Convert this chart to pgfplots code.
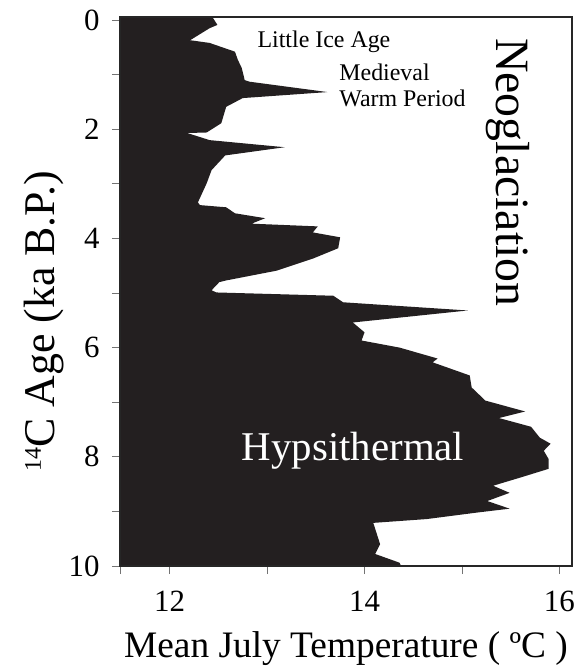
\documentclass[border=0pt]{standalone}
\usepackage{fontspec}
\setmainfont{Liberation Serif}
\usepackage{pgfplots}
\usepackage{pgfplotstable}
\pgfplotsset{compat=1.18}
\definecolor{fillblk}{RGB}{35,31,32}

% mean July temperature (T) against 14C age (ka B.P.)
\pgfplotstableread{
T      age
11.30  -0.10
12.44  -0.10
12.44  -0.05
12.49  0.09
12.41  0.15
12.21  0.37
12.41  0.42
12.67  0.58
12.70  0.73
12.74  0.88
12.77  1.10
12.82  1.13
13.62  1.32
12.75  1.43
12.58  1.59
12.53  1.89
12.38  2.06
12.18  2.07
12.41  2.20
13.18  2.33
12.57  2.48
12.43  2.75
12.38  2.99
12.29  3.34
12.31  3.39
12.58  3.43
12.67  3.54
12.98  3.63
12.84  3.73
13.52  3.78
13.47  3.89
13.75  3.98
13.73  4.18
13.47  4.37
13.10  4.59
12.58  4.77
12.51  4.80
12.43  4.95
12.48  4.99
13.68  5.05
13.78  5.17
15.06  5.32
13.88  5.54
14.00  5.72
13.97  5.87
14.36  6.00
14.75  6.20
14.70  6.27
15.08  6.51
15.10  6.73
15.24  6.97
15.65  7.17
15.38  7.29
15.71  7.45
15.80  7.65
15.91  7.76
15.84  7.89
15.89  8.04
15.89  8.22
15.60  8.38
15.32  8.53
15.49  8.66
15.26  8.81
15.49  8.95
15.16  9.02
14.64  9.14
14.09  9.21
14.16  9.60
14.11  9.78
14.36  9.94
14.40  10.10
11.30  10.10
}\temps

\begin{document}
\begin{tikzpicture}
\begin{axis}[
  scale only axis, width=452bp, height=549bp,
  xmin=11.49, xmax=16.13, ymin=-0.055, ymax=10,
  y dir=reverse,
  xtick={12,14,16}, minor xtick={11.49,13,15},
  ytick={0,2,...,10}, minor ytick={1,3,...,9},
  tick align=outside, xtick pos=bottom, ytick pos=left,
  major tick length=8bp, minor tick length=8bp,
  tick style={line width=0.8bp, black!55},
  axis line style={line width=1.6bp, black!85},
  axis on top,
  /pgf/number format/assume math mode=true,
  ticklabel style={font=\fontsize{31}{31}\selectfont},
  xticklabel style={anchor=base, yshift=-37bp},
  yticklabel style={anchor=east, xshift=-9bp},
  xlabel={Mean July Temperature ( ºC )},
  xlabel style={at={(axis description cs:0.5,-0.1658)}, anchor=base,
    font=\fontsize{37.5}{37.5}\selectfont},
  ylabel={\raisebox{14bp}{\fontsize{24}{24}\selectfont 14}C Age (ka B.P.)},
  ylabel style={at={(axis description cs:-0.144,0.446)}, anchor=base,
    font=\fontsize{44}{44}\selectfont},
]
\addplot[draw=none, fill=fillblk] table[x=T, y=age]{\temps};
\node[anchor=base west, inner sep=0, font=\fontsize{24}{24}\selectfont]
  at (axis cs:12.90,0.495) {Little Ice Age};
\node[anchor=base west, inner sep=0, font=\fontsize{24}{24}\selectfont]
  at (axis cs:13.74,1.10) {Medieval};
\node[anchor=base west, inner sep=0, font=\fontsize{24}{24}\selectfont]
  at (axis cs:13.74,1.59) {Warm Period};
\node[anchor=base west, inner sep=0, text=white, font=\fontsize{41}{41}\selectfont]
  at (axis cs:12.74,8.06) {Hypsithermal};
\node[anchor=base west, inner sep=0, rotate=-90, font=\fontsize{48}{48}\selectfont]
  at (axis cs:15.36,0.33) {Neoglaciation};
\end{axis}
\pgfresetboundingbox
\path[use as bounding box] (-120bp,-100bp) rectangle (458bp,566bp);
\end{tikzpicture}
\end{document}
